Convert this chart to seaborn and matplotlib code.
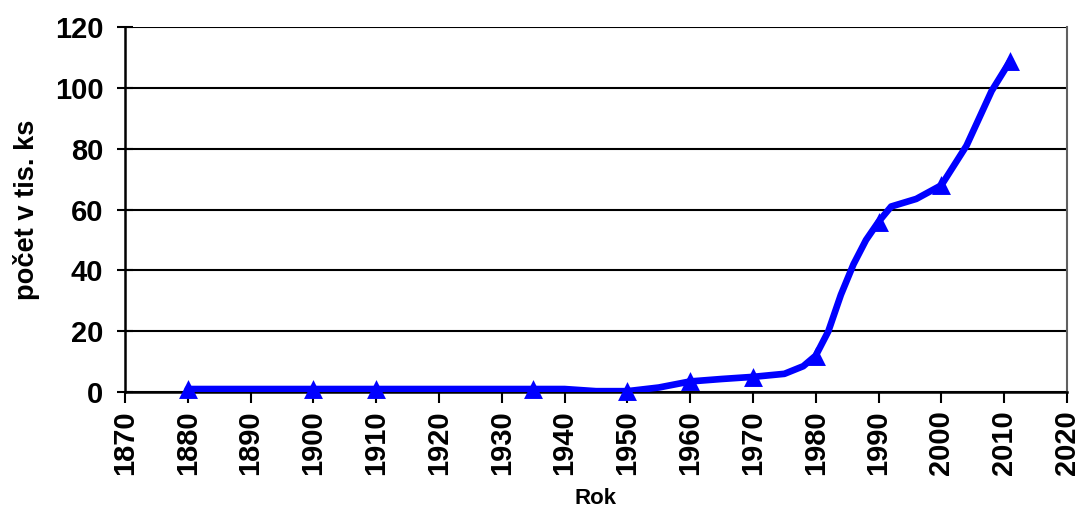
import matplotlib
matplotlib.use("Agg")
import matplotlib.pyplot as plt
import seaborn as sns
import pandas as pd

# line (all data points)
line_years = [1880, 1900, 1910, 1935, 1940, 1945, 1950, 1955, 1960, 1965, 1970,
              1975, 1978, 1980, 1982, 1984, 1986, 1988, 1990, 1992, 1996,
              2000, 2004, 2008, 2011]
line_values = [1, 1, 1, 1, 1, 0.3, 0.3, 1.5, 3.5, 4.3, 5,
               6, 8.5, 12, 20, 32, 42, 50, 56, 61, 63.5,
               68, 81, 99, 109]

# marked points
marker_years = [1880, 1900, 1910, 1935, 1950, 1960, 1970, 1980, 1990, 2000, 2011]
marker_values = [1, 1, 1, 1, 0.3, 3.5, 4.8, 12, 56, 68, 109]

x_ticks = list(range(1870, 2021, 10))
y_ticks = [0, 20, 40, 60, 80, 100, 120]

sns.set_theme(style="white")
plt.rcParams['font.family'] = ['Liberation Sans', 'DejaVu Sans']
plt.rcParams['font.weight'] = 'bold'
plt.rcParams['text.color'] = 'black'
plt.rcParams['axes.labelcolor'] = 'black'
plt.rcParams['xtick.color'] = 'black'
plt.rcParams['ytick.color'] = 'black'

fig = plt.figure(figsize=(10.85, 5.2), dpi=100)
ax = fig.add_axes([0.1152, 0.246, 0.9834 - 0.1152, 0.948 - 0.246])

df_line = pd.DataFrame({"Rok": line_years, "v": line_values})
df_mark = pd.DataFrame({"Rok": marker_years, "v": marker_values})

sns.lineplot(data=df_line, x="Rok", y="v", ax=ax, color="#0000FF", linewidth=4.8,
             zorder=3)
sns.scatterplot(data=df_mark, x="Rok", y="v", ax=ax, color="#0000FF", marker="^",
                s=185, linewidth=0, zorder=4, clip_on=False)

ax.set_xlim(1870, 2020)
ax.set_ylim(0, 120)
ax.set_xticks(x_ticks)
ax.set_yticks(y_ticks)
ax.set_xticklabels([str(t) for t in x_ticks], rotation=90, fontsize=21, fontweight='bold')
ax.set_yticklabels([str(t) for t in y_ticks], fontsize=21, fontweight='bold')

ax.yaxis.grid(True, color="black", linewidth=1.5)
ax.xaxis.grid(False)
ax.set_axisbelow(True)

for s in ["left", "bottom"]:
    ax.spines[s].set_color("black")
    ax.spines[s].set_linewidth(1.8)
ax.spines["top"].set_visible(False)
ax.spines["right"].set_color("#606060")
ax.spines["right"].set_linewidth(1.5)

ax.tick_params(axis='x', direction='out', length=8, width=1.5, color='black',
               bottom=True, pad=5, labelcolor='black')
ax.tick_params(axis='y', direction='inout', length=11, width=1.5, color='black',
               left=True, pad=10, labelcolor='black')

ax.set_xlabel("Rok", fontsize=16, fontweight='bold', labelpad=9, color='black')
ax.set_ylabel("počet v tis. ks", fontsize=19.6, fontweight='bold', labelpad=11,
              color='black')

fig.savefig("out.png", dpi=100, facecolor="white")
